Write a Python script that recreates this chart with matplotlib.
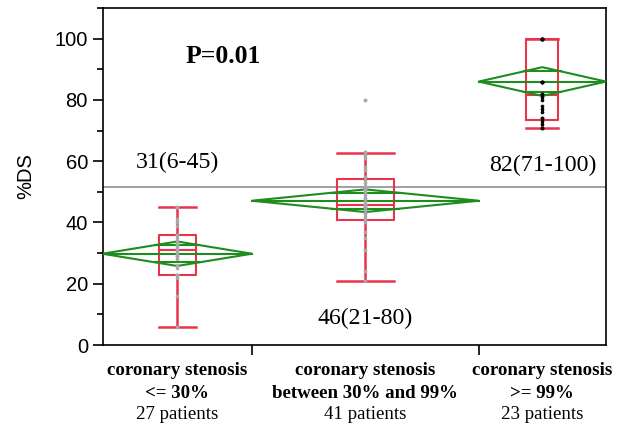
import numpy as np
import matplotlib
matplotlib.use("Agg")
import matplotlib.pyplot as plt
from matplotlib.patches import Polygon

# groups (x widths proportional to number of patients)
group_line1 = ["coronary stenosis", "coronary stenosis", "coronary stenosis"]
group_line2 = ["<= 30%", "between 30% and 99%", ">= 99%"]
group_counts = [27, 41, 23]
count_labels = ["27 patients", "41 patients", "23 patients"]

# box plot stats
whisker_low = [6, 21, 71]
q1 = [23, 40.7, 73.6]
medians = [31, 45.6, 81.5]
q3 = [36, 54.1, 100]
whisker_high = [45, 62.8, 100]
outliers = [[], [80], []]

# means diamonds
means = [29.8, 47.1, 86.0]
ci_half = [4.0, 3.7, 4.7]
grand_mean = 51.7

# individual points
points_low = [6, 16, 22, 23, 23, 23, 23, 25, 26, 28, 29, 29, 30, 31, 31, 32, 33, 33, 34, 35, 36, 36, 39, 40, 41, 45, 45]
points_mid = [21, 24, 31, 35, 37, 40, 41, 41, 42, 43, 43, 44, 44, 45, 45, 45, 46, 46, 46, 46, 46, 47, 48, 48,
              49, 50, 50, 51, 51, 52, 53, 54, 55, 55, 57, 58, 61, 62, 63, 63, 80]
points_high = [71, 71, 72, 73, 74, 74, 76, 77, 78, 80, 81, 82, 82, 86, 86, 86, 86, 100, 100, 100, 100, 100, 100]
point_colors = ["#a8a8a8", "#a8a8a8", "black"]

summary_labels = ["31(6-45)", "46(21-80)", "82(71-100)"]
summary_y = [59.7, 8.8, 58.6]

RED = "#e8334a"
GREEN = "#1e8c1e"
SERIF = ["Liberation Serif", "DejaVu Serif"]
SANS = ["Liberation Sans", "DejaVu Sans"]

plt.rcParams["font.family"] = SANS

fig = plt.figure(figsize=(6.19, 4.24), dpi=100)
ax = fig.add_axes([0.1656, 0.1863, 0.8134, 0.7947])

edges = np.concatenate([[0], np.cumsum(group_counts)])
centers = (edges[:-1] + edges[1:]) / 2
widths = np.diff(edges)
total = edges[-1]

# grand mean line
ax.axhline(grand_mean, color="#999999", lw=1.3, zorder=1)

# points
for pts, c, col in zip([points_low, points_mid, points_high], centers, point_colors):
    ax.scatter(np.full(len(pts), c), pts, s=7, color=col, zorder=4, linewidths=0)

# means diamonds with overlap marks
for i in range(3):
    left, right, c = edges[i], edges[i + 1], centers[i]
    m, h = means[i], ci_half[i]
    dia = Polygon([(left, m), (c, m + h), (right, m), (c, m - h)], closed=True,
                  fill=False, edgecolor=GREEN, lw=1.5, zorder=3)
    ax.add_patch(dia)
    ax.plot([left, right], [m, m], color=GREEN, lw=1.5, zorder=3)
    off = h / np.sqrt(2)
    hw = widths[i] / 2 * (1 - 1 / np.sqrt(2))
    for y in (m + off, m - off):
        ax.plot([c - hw, c + hw], [y, y], color=GREEN, lw=1.5, zorder=3)

# box plots
stats = []
for i in range(3):
    stats.append(dict(whislo=whisker_low[i], q1=q1[i], med=medians[i], q3=q3[i],
                      whishi=whisker_high[i], fliers=[]))
box_w = [w * 0.25 for w in widths]
ax.bxp(stats, positions=centers, widths=box_w, capwidths=box_w, showfliers=False,
       manage_ticks=False,
       boxprops=dict(color=RED, lw=1.5),
       medianprops=dict(color=RED, lw=1.5),
       whiskerprops=dict(color=RED, lw=1.8),
       capprops=dict(color=RED, lw=1.8))
for c, fl in zip(centers, outliers):
    if fl:
        ax.scatter(np.full(len(fl), c), fl, s=7, color="#a8a8a8", zorder=4, linewidths=0)

# text
ax.text(21.9, 94.1, "P=0.01", family=SERIF, fontweight="bold", fontsize=18.5,
        ha="center", va="center")
for c, lab, y in zip(centers, summary_labels, summary_y):
    ax.text(c, y, lab, family=SERIF, fontsize=17.2, ha="center", va="center")

ax.set_xlim(0, total)
ax.set_ylim(0, 110)
ax.set_yticks([0, 20, 40, 60, 80, 100])
ax.set_yticks([10, 30, 50, 70, 90, 110], minor=True)
ax.tick_params(axis="y", which="major", length=7, width=1.2, labelsize=14.5, direction="out")
ax.tick_params(axis="y", which="minor", length=4.5, width=1.2, direction="out")
ax.set_xticks(edges[1:-1])
ax.set_xticklabels([])
ax.tick_params(axis="x", length=7, width=1.2, direction="out")
for s in ax.spines.values():
    s.set_linewidth(1.2)
ax.set_ylabel("%DS", fontsize=14.5, labelpad=14)

# category labels under the axis, three lines each
trans = ax.get_xaxis_transform()
for c, l1, l2, cnt in zip(centers, group_line1, group_line2, count_labels):
    ax.annotate(l1, xy=(c, 0), xycoords=trans, xytext=(0, -18.7), textcoords="offset points",
                ha="center", va="center", family=SERIF, fontweight="bold", fontsize=13.6,
                annotation_clip=False)
    ax.annotate(l2, xy=(c, 0), xycoords=trans, xytext=(0, -34.6), textcoords="offset points",
                ha="center", va="center", family=SERIF, fontweight="bold", fontsize=13.6,
                annotation_clip=False)
    ax.annotate(cnt, xy=(c, 0), xycoords=trans, xytext=(0, -49.7), textcoords="offset points",
                ha="center", va="center", family=SERIF, fontsize=13.6, annotation_clip=False)

fig.savefig("out.png", dpi=100)
